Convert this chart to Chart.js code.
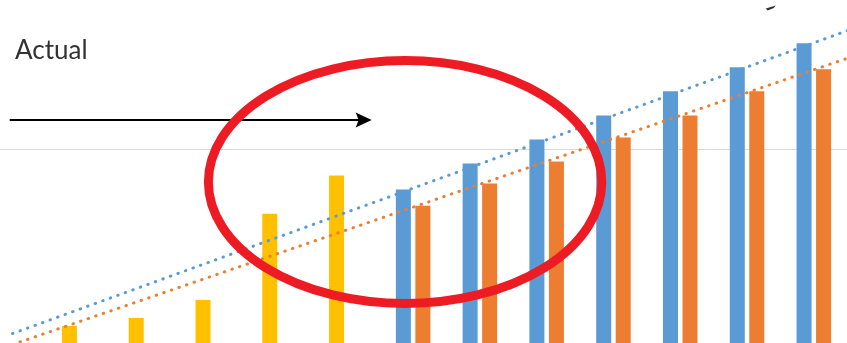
<!DOCTYPE html>
<html>
<head>
<meta charset="utf-8">
<script src="https://cdn.jsdelivr.net/npm/chart.js@4/dist/chart.umd.min.js"></script>
<style>
  html, body { margin: 0; padding: 0; background: #fff; overflow: hidden; width: 847px; height: 343px; }
  #wrap { position: absolute; left: -21px; top: -51px; width: 935px; height: 401px; }
</style>
</head>
<body>
<div id="wrap"><canvas id="chart" width="935" height="401"></canvas></div>
<script>
// Periods on the category axis (one empty period on each side of the data)
const periods = ['0', '1', '2', '3', '4', '5', '6', '7', '8', '9', '10', '11', '12', '13'];

// Observed values, periods 1-5
const actual = [12, 16, 25, 68, 87];

// Projections, periods 6-12
const forecastHigh = [80, 93, 105, 117, 129, 141, 153];
const forecastLow = [72, 83, 94, 106, 117, 129, 140];

// Linear trend values at the first and last period
const trendHighEnds = [8.2, 165.3];
const trendLowEnds = [2.7, 151.2];

// Value-axis gridline positions
const valueTicks = [0, 100, 200];

const COLORS = { actual: '#FFC000', high: '#5B9BD5', low: '#ED7D31' };

const lead = [null];
const trail = [null];
const mainBars = [...lead, ...actual, ...forecastHigh, ...trail];
const mainColors = mainBars.map((v, i) => (i >= lead.length && i < lead.length + actual.length) ? COLORS.actual : COLORS.high);
const lowBars = [...lead, ...actual.map(() => null), ...forecastLow, ...trail];
const endsToSeries = ends => periods.map((_, i) => i === 0 ? ends[0] : (i === periods.length - 1 ? ends[1] : null));

// Callouts, placed in axis units (period index, value)
const callouts = {
  label: { text: 'Actual', x: 0.04, y: 145.1 },
  arrow: { x0: -0.04, x1: 5.38, y: 114.7 },
  ring: { cx: 5.88, cy: 83.8, rx: 2.945, ry: 60.6 },
  mark: { x: 11.34, y: 170.8 }
};

const calloutPlugin = {
  id: 'callouts',
  afterDatasetsDraw(chart) {
    const { ctx, scales: { x, y } } = chart;
    const px = v => x.getPixelForValue(v);
    const py = v => y.getPixelForValue(v);
    ctx.save();

    // text label
    ctx.font = '26px Lato';
    ctx.fillStyle = '#333333';
    ctx.textBaseline = 'alphabetic';
    ctx.textAlign = 'left';
    ctx.fillText(callouts.label.text, px(callouts.label.x), py(callouts.label.y));

    // arrow pointing right
    const ay = py(callouts.arrow.y);
    const ax0 = px(callouts.arrow.x0);
    const ax1 = px(callouts.arrow.x1);
    ctx.strokeStyle = '#000';
    ctx.lineWidth = 2;
    ctx.beginPath();
    ctx.moveTo(ax0, ay);
    ctx.lineTo(ax1 - 12, ay);
    ctx.stroke();
    ctx.fillStyle = '#000';
    ctx.beginPath();
    ctx.moveTo(ax1, ay);
    ctx.lineTo(ax1 - 16, ay - 7.5);
    ctx.lineTo(ax1 - 13, ay);
    ctx.lineTo(ax1 - 16, ay + 7.5);
    ctx.closePath();
    ctx.fill();

    // small dark mark at the top edge
    const mx = px(callouts.mark.x), my = py(callouts.mark.y);
    ctx.fillStyle = '#333';
    ctx.beginPath();
    ctx.moveTo(mx - 4, my + 1);
    ctx.lineTo(mx + 6, my - 2);
    ctx.lineTo(mx + 4, my + 0.5);
    ctx.lineTo(mx - 2, my + 3);
    ctx.closePath();
    ctx.fill();

    // red ring
    const r = callouts.ring;
    const cx = px(r.cx), cy = py(r.cy);
    const rx = px(r.cx + r.rx) - cx;
    const ry = cy - py(r.cy + r.ry);
    ctx.strokeStyle = '#ED1C24';
    ctx.lineWidth = 9;
    ctx.beginPath();
    ctx.ellipse(cx, cy, rx, ry, 0, 0, Math.PI * 2);
    ctx.stroke();

    ctx.restore();
  }
};

new Chart(document.getElementById('chart'), {
  type: 'bar',
  data: {
    labels: periods,
    datasets: [
      {
        type: 'line', label: 'Trend high', data: endsToSeries(trendHighEnds),
        borderColor: COLORS.high, borderWidth: 3, borderDash: [0.5, 7.5], borderCapStyle: 'round',
        pointRadius: 0, spanGaps: true, fill: false, order: 0
      },
      {
        type: 'line', label: 'Trend low', data: endsToSeries(trendLowEnds),
        borderColor: COLORS.low, borderWidth: 3, borderDash: [0.5, 7.5], borderCapStyle: 'round',
        pointRadius: 0, spanGaps: true, fill: false, order: 0
      },
      {
        label: 'High', data: mainBars, backgroundColor: mainColors, borderWidth: 0,
        barPercentage: 0.77, categoryPercentage: 0.584, order: 1
      },
      {
        label: 'Low', data: lowBars, backgroundColor: COLORS.low, borderWidth: 0,
        barPercentage: 0.77, categoryPercentage: 0.584, order: 1
      }
    ]
  },
  options: {
    responsive: false,
    animation: false,
    layout: { padding: 0 },
    plugins: { legend: { display: false }, tooltip: { enabled: false } },
    scales: {
      x: { display: false, offset: true, grid: { display: false } },
      y: {
        display: true, min: 0, max: 200,
        ticks: { display: false },
        grid: { color: '#D9D9D9', lineWidth: 1, drawTicks: false },
        border: { display: false },
        afterBuildTicks: s => { s.ticks = valueTicks.map(v => ({ value: v })); }
      }
    }
  },
  plugins: [calloutPlugin]
});
</script>
</body>
</html>
